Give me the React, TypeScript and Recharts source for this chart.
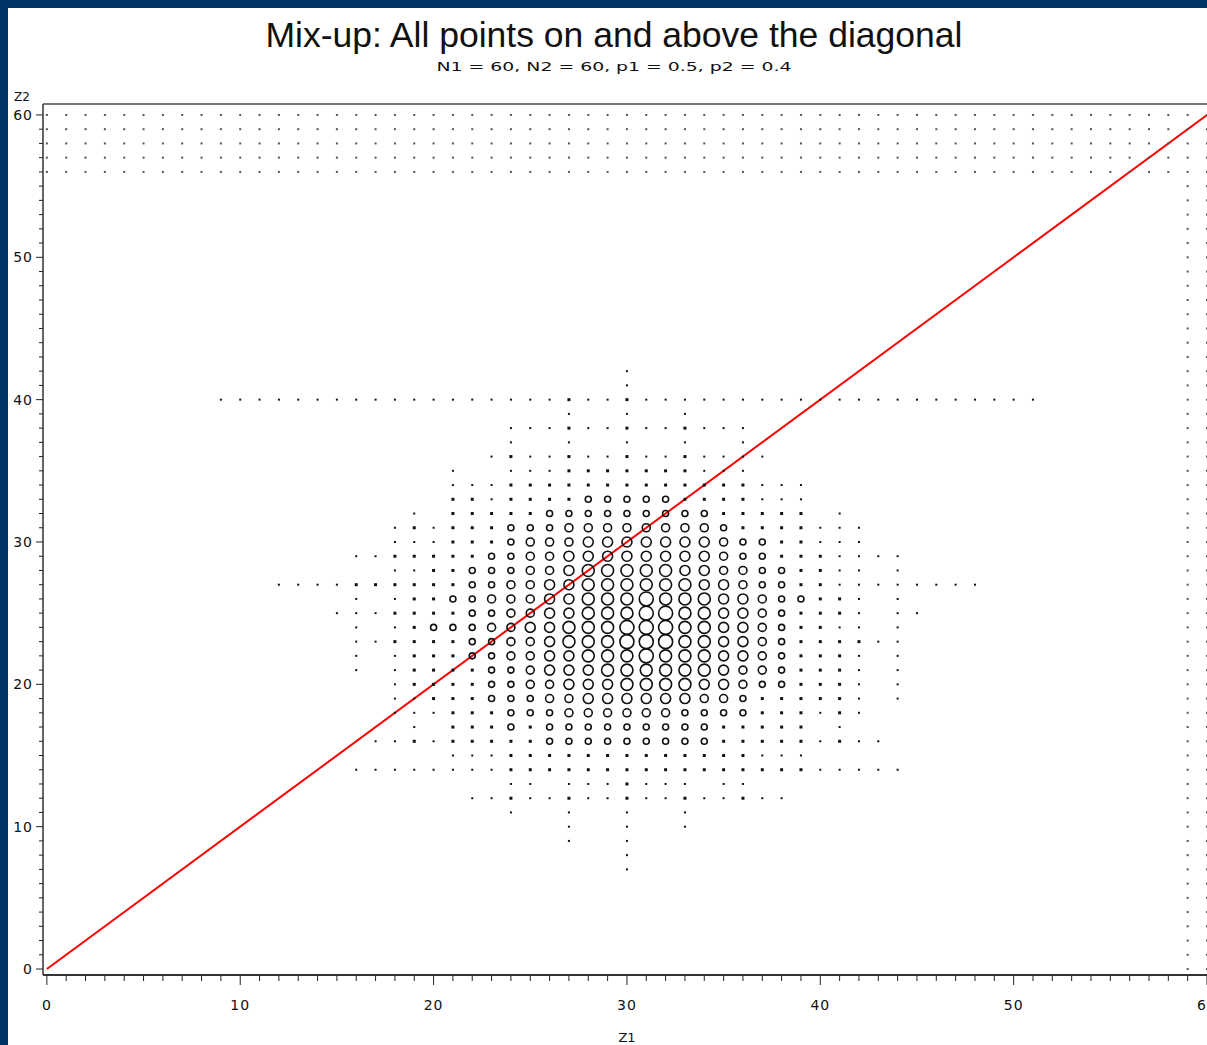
import { ScatterChart, Scatter, XAxis, YAxis, ReferenceLine } from 'recharts'

// grid values 0..60 used by both axes
const Z_GRID = [
  0, 1, 2, 3, 4, 5, 6, 7, 8, 9, 10, 11, 12, 13, 14, 15, 16, 17, 18, 19, 20,
  21, 22, 23, 24, 25, 26, 27, 28, 29, 30, 31, 32, 33, 34, 35, 36, 37, 38, 39, 40,
  41, 42, 43, 44, 45, 46, 47, 48, 49, 50, 51, 52, 53, 54, 55, 56, 57, 58, 59, 60,
]
const TICK_LABELS = [0, 10, 20, 30, 40, 50, 60]

// dotted band at the top and the column at the right edge
const EDGE_ROWS_Z2 = [56, 57, 58, 59, 60]
const EDGE_COLS_Z1 = [59, 60]

// central cloud: [z2, first z1, weight per z1] ; ' ' = no point, 0..6 = marker weight
const BLOB_ROWS: [number, number, string][] = [
  [42, 30, '0'],
  [41, 30, '0'],
  [40, 9, '000000000000000000' + '1001' + '000000000000000000000'],
  [39, 27, '0  0  0'],
  [38, 24, '0001001001000'],
  [37, 24, '0  0  0  0  0'],
  [36, 23, '010010010010000'],
  [35, 21, '0  0001111111000'],
  [34, 21, '0001111111111111000'],
  [33, 21, '1101111222221111000'],
  [32, 19, '0 1111122222222211111 0'],
  [31, 18, '0101112223333333321111000'],
  [30, 18, '0001112333444444432211000'],
  [29, 16, '00111112233444444443221110000'],
  [28, 18, '0011222334555554433221100 0'],
  [27, 12, '0000111111223344555555443221100000000'],
  [26, 16, '0 0112233344555655544322110 0'],
  [25, 15, '0001111223344555665544321110 00'],
  [24, 16, '0 0122233445556665544321100 0'],
  [23, 16, '00111122334555666554432111100'],
  [22, 16, '0 0111223344555655544321110 0'],
  [21, 16, '0 0111122344455555543321110 0'],
  [20, 18, '0111122334445555443221110 0'],
  [19, 18, '0011122233444444332111110 0'],
  [18, 18, '0001112223333332222111010'],
  [17, 19, '0 1112122222222211111 0'],
  [16, 17, '001011111222222222111110100'],
  [15, 21, '0001111111111111000'],
  [14, 16, '00000000111111111111111100000'],
  [13, 24, '00 0001000 00'],
  [12, 22, '00100100100100100'],
  [11, 24, '0  0  0  0'],
  [10, 27, '0  0  0'],
  [9, 27, '0  0'],
  [8, 30, '0'],
  [7, 30, '0'],
]

const DIAGONAL = [
  { x: 0, y: 0 },
  { x: 60, y: 60 },
]

const X_DOMAIN: [number, number] = [-0.2, 60]
const Y_DOMAIN: [number, number] = [-0.42, 60.77]

type Cell = { z1: number; z2: number; w: number }

const blobData: Cell[] = BLOB_ROWS.flatMap(([z2, start, pat]) =>
  pat.split('').flatMap((ch, i) => (ch === ' ' ? [] : [{ z1: start + i, z2, w: Number(ch) }]))
)

const edgeData: Cell[] = [
  ...EDGE_ROWS_Z2.flatMap((z2) => Z_GRID.map((z1) => ({ z1, z2, w: 0 }))),
  ...EDGE_COLS_Z1.flatMap((z1) =>
    Z_GRID.filter((z2) => z2 < EDGE_ROWS_Z2[0]).map((z2) => ({ z1, z2, w: 0 }))
  ),
]

const DIAM = [2, 3, 6, 8, 10, 12, 14]

const Bubble = (props: any) => {
  const { cx, cy, payload } = props
  if (cx == null || cy == null) return null
  const w = payload.w
  if (w <= 1) {
    const s = DIAM[w]
    return <rect x={cx - s / 2} y={cy - s / 2} width={s} height={s} fill="#111" />
  }
  return <circle cx={cx} cy={cy} r={DIAM[w] / 2} fill="none" stroke="#111" strokeWidth={1.6} />
}

const EdgeDot = (props: any) => {
  const { cx, cy } = props
  if (cx == null || cy == null) return null
  return <rect x={cx - 1} y={cy - 1} width={2} height={2} fill="#555" />
}

const tickFont = { fontFamily: 'DejaVu Sans', fontSize: 14, fill: '#111', letterSpacing: 1 }

const XTick = (props: any) => {
  const { x, y, payload } = props
  const v = payload.value
  const major = TICK_LABELS.includes(v)
  return (
    <g>
      <line x1={x} y1={y} x2={x} y2={y + (major ? 10 : 6)} stroke="#222" strokeWidth={1} />
      {major && (
        <text x={x} y={y + 35} textAnchor="middle" {...tickFont}>
          {v}
        </text>
      )}
    </g>
  )
}

const YTick = (props: any) => {
  const { x, y, payload } = props
  const v = payload.value
  const major = TICK_LABELS.includes(v)
  return (
    <g>
      <line x1={x} y1={y} x2={x - (major ? 7 : 4)} y2={y} stroke="#222" strokeWidth={1} />
      {major && (
        <text x={x - 10} y={y + 5} textAnchor="end" {...tickFont}>
          {v}
        </text>
      )}
    </g>
  )
}

export default function App() {
  return (
    <div
      style={{
        position: 'absolute',
        left: 0,
        top: 0,
        width: 1207,
        height: 1045,
        background: '#003366',
        overflow: 'hidden',
      }}
    >
      <div
        style={{
          position: 'absolute',
          left: 8,
          top: 8,
          width: 1199,
          height: 1037,
          background: '#fff',
        }}
      >
        <ScatterChart width={1199} height={1037} margin={{ top: 96, right: 0, bottom: 0, left: 0 }}>
          <XAxis
            type="number"
            dataKey="z1"
            domain={X_DOMAIN}
            allowDataOverflow
            ticks={Z_GRID}
            interval={0}
            height={70}
            tickSize={0}
            tickMargin={0}
            tickLine={false}
            tick={<XTick />}
            axisLine={{ stroke: '#333', strokeWidth: 2 }}
          />
          <YAxis
            type="number"
            dataKey="z2"
            domain={Y_DOMAIN}
            allowDataOverflow
            ticks={Z_GRID}
            interval={0}
            width={35}
            tickSize={0}
            tickMargin={0}
            tickLine={false}
            tick={<YTick />}
            axisLine={{ stroke: '#333', strokeWidth: 1.5 }}
          />
          <ReferenceLine y={Y_DOMAIN[1]} stroke="#777" strokeWidth={2} />
          <Scatter data={edgeData} shape={<EdgeDot />} isAnimationActive={false} />
          <Scatter data={blobData} shape={<Bubble />} isAnimationActive={false} />
          <ReferenceLine segment={DIAGONAL} stroke="#ff0000" strokeWidth={2} ifOverflow="visible" />
        </ScatterChart>
        <svg
          width={1199}
          height={1037}
          style={{ position: 'absolute', left: 0, top: 0, pointerEvents: 'none' }}
        >
          <text
            x={606}
            y={39}
            textAnchor="middle"
            fontFamily="Liberation Sans"
            fontSize={35}
            textLength={697}
            lengthAdjust="spacingAndGlyphs"
            fill="#111"
          >
            Mix-up: All points on and above the diagonal
          </text>
          <text
            x={606}
            y={63}
            textAnchor="middle"
            fontFamily="DejaVu Sans"
            fontSize={13}
            textLength={355}
            lengthAdjust="spacingAndGlyphs"
            fill="#111"
          >
            N1 = 60,  N2 = 60,  p1 = 0.5,  p2 = 0.4
          </text>
          <text x={14} y={93} textAnchor="middle" fontFamily="DejaVu Sans" fontSize={12} fill="#111">
            Z2
          </text>
          <text x={619} y={1034} textAnchor="middle" fontFamily="DejaVu Sans" fontSize={13} fill="#111">
            Z1
          </text>
        </svg>
      </div>
    </div>
  )
}
